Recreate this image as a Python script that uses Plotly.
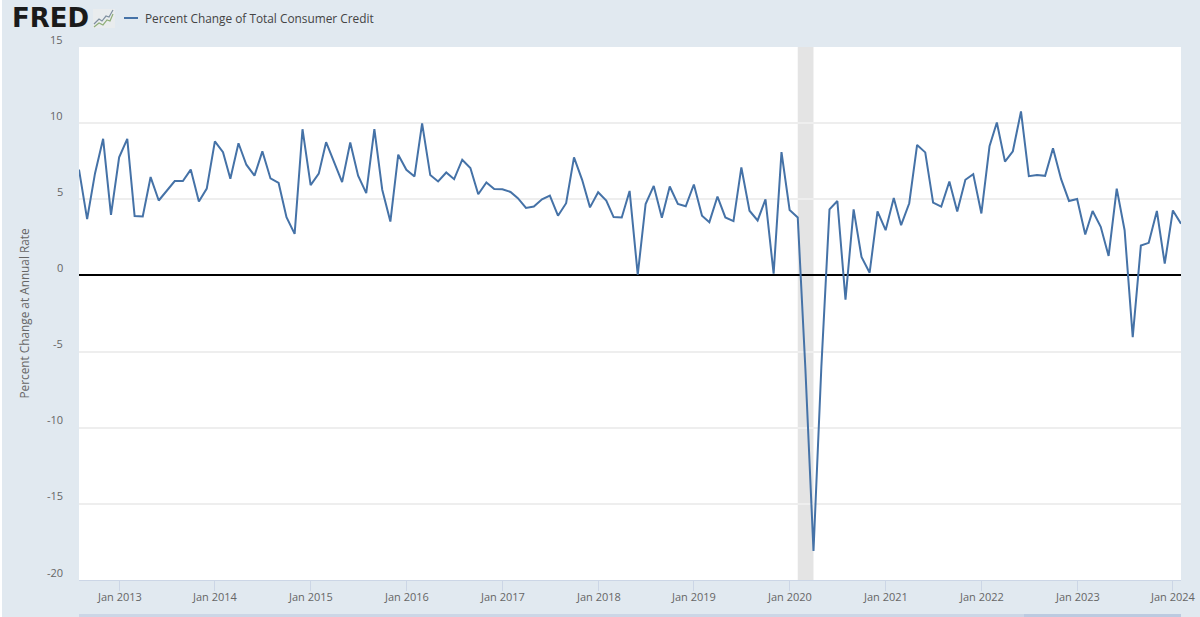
import pandas as pd
import plotly.graph_objects as go

series_name = "Percent Change of Total Consumer Credit"
y_title = "Percent Change at Annual Rate"
start_month = "2012-08-01"
values = [
    6.95, 3.7, 6.7, 8.97, 3.98, 7.76, 8.97, 3.9, 3.87, 6.46,
    4.92, 5.58, 6.2, 6.2, 6.95, 4.86, 5.7, 8.8, 8.09, 6.35,
    8.68, 7.27, 6.55, 8.15, 6.37, 6.07, 3.82, 2.73, 9.6, 5.93,
    6.68, 8.75, 7.45, 6.13, 8.73, 6.55, 5.4, 9.6, 5.63, 3.54,
    7.93, 6.94, 6.5, 9.98, 6.59, 6.17, 6.76, 6.32, 7.6, 7.05,
    5.33, 6.1, 5.68, 5.66, 5.48, 5.07, 4.43, 4.52, 5.0, 5.24,
    3.92, 4.74, 7.75, 6.28, 4.47, 5.46, 4.91, 3.83, 3.81, 5.55,
    0.05, 4.69, 5.88, 3.79, 5.84, 4.69, 4.54, 5.97, 3.92, 3.5,
    5.18, 3.81, 3.57, 7.09, 4.25, 3.61, 5.0, 0.11, 8.1, 4.3,
    3.81, -6.1, -18.1, -6.0, 4.34, 4.89, -1.59, 4.34, 1.21, 0.18,
    4.2, 2.97, 5.09, 3.3, 4.74, 8.57, 8.08, 4.78, 4.52, 6.17,
    4.2, 6.28, 6.65, 4.07, 8.48, 10.04, 7.47, 8.15, 10.77, 6.52,
    6.6, 6.54, 8.35, 6.32, 4.89, 5.02, 2.69, 4.23, 3.19, 1.28,
    5.7, 2.97, -4.05, 1.96, 2.14, 4.23, 0.77, 4.27, 3.39,
]
y_ticks = [15, 10, 5, 0, -5, -10, -15, -20]
x_tick_years = list(range(2013, 2025))
recession = ("2020-02-01", "2020-04-01")

W, H = 1200, 617
L, R, T, B = 79, 1181, 47, 580
BG = "#e1e9f0"
months = pd.date_range(start_month, periods=len(values), freq="MS")


def px(x):
    return (x - L) / (R - L)


def py(y):
    return (B - y) / (B - T)


def rect(x0, y0, x1, y1, color):
    return dict(type="rect", xref="paper", yref="paper", x0=px(x0), x1=px(x1),
                y0=py(y0), y1=py(y1), fillcolor=color, line_width=0, layer="below")


def stroke(points, color, width):
    d = "M" + " L".join(f"{px(a):.5f},{py(b):.5f}" for a, b in points)
    return dict(type="path", xref="paper", yref="paper", path=d,
                line=dict(color=color, width=width), layer="above")


fig = go.Figure(go.Scatter(x=months, y=values, mode="lines", name=series_name,
                           line=dict(color="#4572a7", width=2), showlegend=False,
                           hoverinfo="x+y"))

shapes = [
    rect(2, 0, W, H, BG),
    rect(L, T, R, B, "#ffffff"),
    dict(type="rect", xref="x", yref="paper", x0=recession[0], x1=recession[1], y0=0, y1=1,
         fillcolor="#e4e4e4", line_width=0, layer="below"),
    # legend key
    stroke([(124, 18), (138, 18)], "#4572a7", 2),
    # logo icon
    rect(93, 9, 115, 28, "#e9ecee"),
    stroke([(94, 24), (99, 19), (102, 21), (106, 16), (109, 17), (113, 10)], "#7f8f9f", 1.2),
    stroke([(94, 27), (99, 23), (103, 25), (107, 20), (110, 21), (113, 14)], "#8fae78", 1.2),
    # navigator strip at the bottom edge
    rect(79, 614, 1181, 617, "#ccd6e6"),
    rect(1024, 614, 1181, 617, "#bccae0"),
]

annotations = [
    dict(text="FRED", xref="paper", yref="paper", x=px(10), y=py(18), xanchor="left",
         yanchor="middle", showarrow=False,
         font=dict(family="DejaVu Sans", size=26, color="#1a1a1a", weight="bold")),
    dict(text=series_name, xref="paper", yref="paper", x=px(143), y=py(18), xanchor="left",
         yanchor="middle", showarrow=False,
         font=dict(family="Open Sans", size=11.85, color="#444444")),
    dict(text=y_title, xref="paper", yref="paper", x=px(23), y=py(313.5), xanchor="center",
         yanchor="middle", textangle=-90, showarrow=False,
         font=dict(family="Open Sans", size=11.8, color="#666666")),
]
for t in y_ticks:
    annotations.append(dict(text=str(t), xref="paper", yref="y", x=px(65), y=t, yshift=8,
                            xanchor="right", yanchor="middle", showarrow=False,
                            font=dict(family="Open Sans", size=11, color="#666666")))
for y in x_tick_years:
    annotations.append(dict(text=f"Jan {y}", xref="x", yref="paper", x=f"{y}-01-01", y=py(596),
                            xanchor="center", yanchor="middle", showarrow=False,
                            font=dict(family="Open Sans", size=11, color="#666666")))

fig.update_layout(
    width=W, height=H, margin=dict(l=L, r=W - R, t=T, b=H - B),
    paper_bgcolor="#ffffff", plot_bgcolor="rgba(0,0,0,0)",
    shapes=shapes, annotations=annotations, hovermode="x",
    xaxis=dict(type="date", range=[months[0], months[-1]],
               tickvals=[f"{y}-01-01" for y in x_tick_years],
               showticklabels=False,
               ticks="outside", ticklen=10, tickwidth=1, tickcolor="#ccd6e6",
               showgrid=False, showline=True, linecolor="#ccd6e6", linewidth=1),
    yaxis=dict(range=[-20, 15], tickvals=y_ticks, showticklabels=False, ticks="",
               showgrid=True, gridcolor="#eeeeee", gridwidth=1.5,
               zeroline=True, zerolinecolor="#000000", zerolinewidth=2,
               showline=False),
)

fig.write_html("out.html", config={"displayModeBar": False},
               post_script="document.body.style.margin='0';")
